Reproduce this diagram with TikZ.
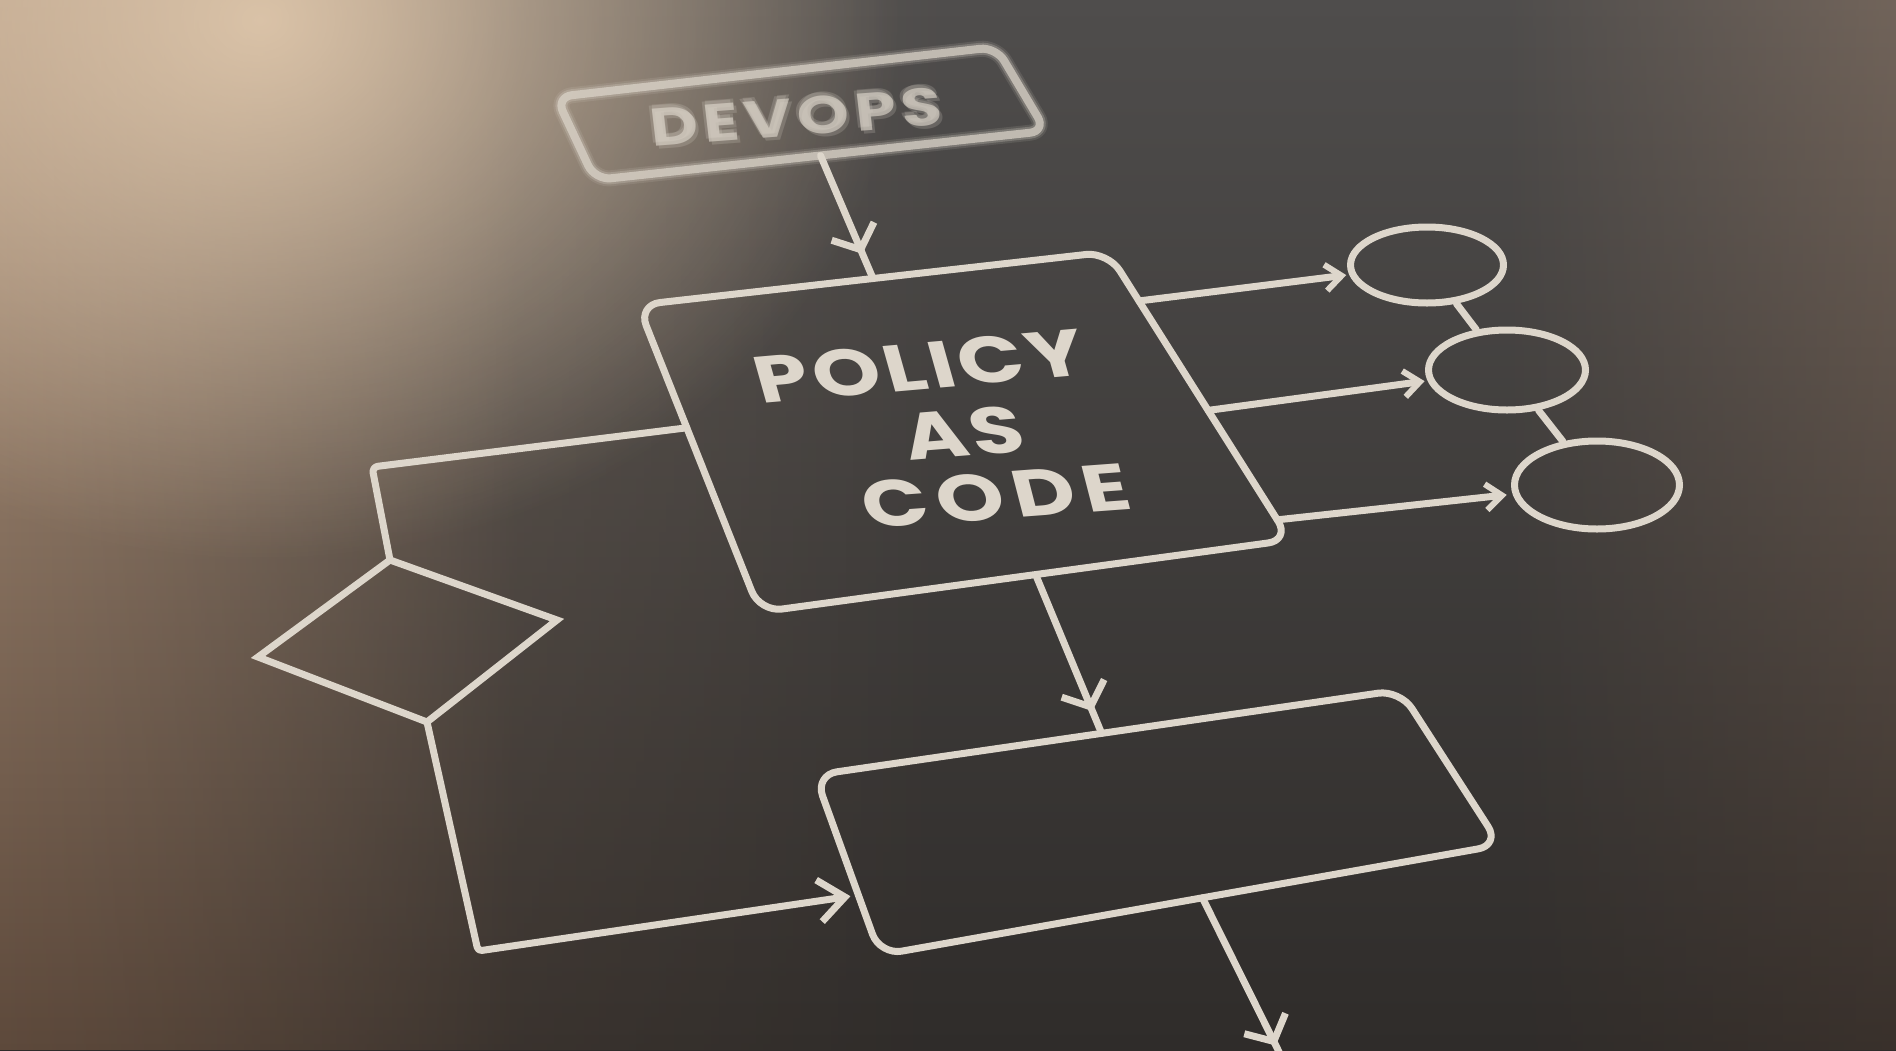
\documentclass[tikz,border=0pt]{standalone}
\usepackage{fontspec}
\setmainfont{Poppins}
\usetikzlibrary{arrows.meta,calc,decorations.markings,fadings,shapes.geometric}
\definecolor{bgtop}{HTML}{4F4D4C}
\definecolor{bgbot}{HTML}{2F2C2A}
\definecolor{glow}{HTML}{E2CAAE}
\definecolor{warmtop}{HTML}{B09882}
\definecolor{warmbot}{HTML}{5E4A3C}
\definecolor{rtop}{HTML}{7A6A5E}
\definecolor{rbot}{HTML}{3C322C}
\definecolor{ink}{HTML}{DDD6CB}
\tikzfading[name=glowfade,inner color=transparent!0,outer color=transparent!100]
\tikzfading[name=fadeR,left color=transparent!0,right color=transparent!100]
\tikzfading[name=fadeL,left color=transparent!100,right color=transparent!0]
\begin{document}
\begin{tikzpicture}[x=1pt,y=-1pt,line cap=round,line join=round,
  wire/.style={draw=ink,line width=7pt},
  boxpath/.style={draw=ink,line width=7pt,rounded corners=22pt},
  ring/.style={ellipse,draw=ink,line width=7pt,inner sep=0pt},
  headbig/.style={postaction={decorate},decoration={markings,mark=at position #1 with {\arrow{Straight Barb[length=20pt,width=46pt,line width=7pt]}}}},
  tipsmall/.style={-{Straight Barb[length=16pt,width=26pt,line width=6pt]}},
  tipleft/.style={-{Straight Barb[length=26pt,width=42pt,line width=7pt]}},
  bigtext/.style={text=ink,inner sep=0pt,xscale=1.3},
  devtext/.style={text=ink,font=\fontsize{53}{53}\selectfont\bfseries\addfontfeatures{LetterSpace=8},inner sep=0pt,xscale=1.25},
]
\useasboundingbox (0,0) rectangle (1896,1050);
% background
\shade[top color=bgtop,bottom color=bgbot] (0,0) rectangle (1896,1050);
\shade[top color=warmtop,bottom color=warmbot,path fading=fadeR] (0,0) rectangle (520,1050);
\shade[top color=warmtop,bottom color=warmbot,path fading=fadeR,opacity=0.5] (0,0) rectangle (950,1050);
\shade[top color=rtop,bottom color=rbot,path fading=fadeL,opacity=0.8] (1500,0) rectangle (1896,1050);
\fill[glow,path fading=glowfade,fill opacity=0.9] (260,20) ellipse [x radius=640,y radius=540];

% coordinates
\coordinate (dTL) at (556,97);
\coordinate (dTR) at (996,47);
\coordinate (dBR) at (1046,131);
\coordinate (dBL) at (595,180);
\coordinate (pTL) at (638,305);
\coordinate (pTR) at (1108,252);
\coordinate (pBR) at (1290,540);
\coordinate (pBL) at (760,612);
\coordinate (bTL) at (815,775);
\coordinate (bTR) at (1400,690);
\coordinate (bBR) at (1500,845);
\coordinate (bBL) at (880,955);
\coordinate (mT) at (390,560);
\coordinate (mR) at (557,620);
\coordinate (mB) at (427,722);
\coordinate (mL) at (258,657);
\coordinate (kA) at (372,467);
\coordinate (kB) at (478,951);
\coordinate (bOut) at (1292,1078);
\coordinate (dBot) at ($(dBL)!0.5!(dBR)$);
\coordinate (pTop) at ($(pTL)!0.5!(pTR)$);
\coordinate (pR1) at ($(pTR)!0.17!(pBR)$);
\coordinate (pR2) at ($(pTR)!0.55!(pBR)$);
\coordinate (pR3) at ($(pTR)!0.93!(pBR)$);
\coordinate (pLft) at ($(pTL)!0.40!(pBL)$);
\coordinate (pBot) at ($(pBL)!0.52!(pBR)$);
\coordinate (bTop) at ($(bTL)!0.49!(bTR)$);
\coordinate (bLft) at ($(bTL)!0.667!(bBL)$);
\coordinate (bBot) at ($(bBL)!0.52!(bBR)$);

% DEVOPS box (soft focus)
\draw[draw=ink,line width=16pt,rounded corners=16pt,opacity=0.12] (dTL) -- (dTR) -- (dBR) -- (dBL) -- cycle;
\draw[draw=ink,line width=12pt,rounded corners=16pt,opacity=0.25] (dTL) -- (dTR) -- (dBR) -- (dBL) -- cycle;
\draw[draw=ink,line width=8pt,rounded corners=16pt,opacity=0.7] (dTL) -- (dTR) -- (dBR) -- (dBL) -- cycle;
\node[devtext,rotate=5.4,opacity=0.2] (tDevA) at (793,114) {DEVOPS};
\node[devtext,rotate=5.4,opacity=0.2] (tDevB) at (799,120) {DEVOPS};
\node[devtext,rotate=5.4,opacity=0.2] (tDevC) at (796,113) {DEVOPS};
\node[devtext,rotate=5.4,opacity=0.65] (tDev) at (796,117) {DEVOPS};

% main boxes
\draw[boxpath] (pTL) -- (pTR) -- (pBR) -- (pBL) -- cycle;
\draw[boxpath] (bTL) -- (bTR) -- (bBR) -- (bBL) -- cycle;
\draw[wire,line join=miter] (mT) -- (mR) -- (mB) -- (mL) -- cycle;

% circles
\node[ring,minimum width=153pt,minimum height=76pt] (c1) at (1427,265) {};
\node[ring,minimum width=157pt,minimum height=80pt] (c2) at (1507,370) {};
\node[ring,minimum width=165pt,minimum height=88pt] (c3) at (1597,485) {};
\draw[wire] (c1) -- (c2);
\draw[wire] (c2) -- (c3);

% connectors
\draw[wire,headbig=0.80] (dBot) -- (pTop);
\draw[wire,headbig=0.86] (pBot) -- (bTop);
\draw[wire,headbig=0.82] (bBot) -- (bOut);
\draw[wire,tipsmall,shorten >=3pt] (pR1) -- (c1);
\draw[wire,tipsmall,shorten >=3pt] (pR2) -- (c2);
\draw[wire,tipsmall,shorten >=6pt] (pR3) -- (c3);
\draw[wire,rounded corners=6pt] (pLft) -- (kA) -- (mT);
\draw[wire,tipleft,rounded corners=4pt,shorten >=8pt] (mB) -- (kB) -- (bLft);

% text
\node[bigtext,font=\fontsize{66}{66}\selectfont\bfseries\addfontfeatures{LetterSpace=5},rotate=6.5,xslant=-0.1] (tPolicy) at (920,366) {POLICY};
\node[bigtext,font=\fontsize{66}{66}\selectfont\bfseries\addfontfeatures{LetterSpace=4},rotate=6,xslant=-0.1] (tAs) at (963,433) {AS};
\node[bigtext,font=\fontsize{66}{66}\selectfont\bfseries\addfontfeatures{LetterSpace=10},rotate=5.5,xslant=-0.1] (tCode) at (996,496) {CODE};
\end{tikzpicture}
\end{document}
